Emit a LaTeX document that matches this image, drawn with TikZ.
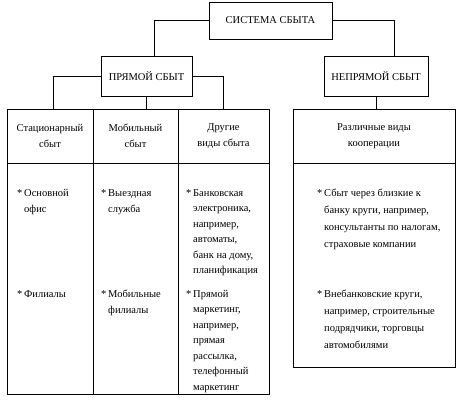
\documentclass[tikz,border=0pt]{standalone}
\usepackage{fontspec}
\setmainfont{Liberation Serif}
\usetikzlibrary{positioning}

\newcommand{\bul}[1]{\begin{tabular}[t]{@{}l@{\,}l@{}}*&#1\end{tabular}}

\begin{document}
\begin{tikzpicture}[
	x=1pt, y=-1pt,
	box/.style={
		rectangle,
		draw=black,
		line width=0.8pt,
		outer sep=0pt,
		inner sep=0pt,
		align=center,
		font=\fontsize{10.5}{16}\selectfont,
		minimum height=40pt
	},
	cell/.style={
		rectangle,
		draw=black,
		line width=0.8pt,
		outer sep=0pt,
		inner sep=0pt,
		align=center,
		font=\fontsize{10.5}{16.5}\selectfont
	},
	item/.style={
		anchor=base west,
		inner sep=0pt,
		font=\fontsize{10.5}{16}\selectfont
	},
	link/.style={line width=0.8pt}
	]
	\useasboundingbox (0,0) rectangle (461,402);

	\node[box, minimum width=123pt, minimum height=37pt] (sys) at (270.5,20.5) {СИСТЕМА СБЫТА};
	\node[box, minimum width=91pt] (direct) at (146.5,76) {ПРЯМОЙ СБЫТ};
	\node[box, minimum width=104pt] (indirect) at (376,76) {НЕПРЯМОЙ СБЫТ};

	% direct sales table
	\node[cell, anchor=north west, minimum width=86pt, minimum height=54pt] (stat) at (7,109) {Стационарный\\сбыт};
	\node[cell, minimum width=85pt, minimum height=54pt, right=0pt of stat] (mob) {Мобильный\\сбыт};
	\node[cell, minimum width=91pt, minimum height=54pt, right=0pt of mob] (other) {Другие\\виды сбыта};
	\node[cell, minimum width=86pt, minimum height=231pt, below=0pt of stat] (statbody) {};
	\node[cell, minimum width=85pt, minimum height=231pt, below=0pt of mob] (mobbody) {};
	\node[cell, minimum width=91pt, minimum height=231pt, below=0pt of other] (otherbody) {};

	% indirect sales table
	\node[cell, anchor=north west, minimum width=162pt, minimum height=54pt] (coop) at (293,109) {Различные виды\\кооперации};
	\node[cell, minimum width=162pt, minimum height=204pt, below=0pt of coop] (coopbody) {};

	\draw[link] (sys.west) -| ([xshift=8pt]direct.north);
	\draw[link] (sys.east) -| ([xshift=18pt]indirect.north);
	\draw[link] (direct.west) -| ([xshift=3pt]stat.north);
	\draw[link] (direct.south) -- (direct.south |- mob.north);
	\draw[link] (direct.east) -| (other.north);
	\draw[link] (indirect.south) -- (indirect.south |- coop.north);

	\node[item] (office) at (17,196) {\bul{Основной\\&офис}};
	\node[item] (branch) at (17,297) {\bul{Филиалы}};
	\node[item] (field) at (101,196) {\bul{Выездная\\&служба}};
	\node[item] (mobbranch) at (101,297) {\bul{Мобильные\\&филиалы}};
	\node[item, font=\fontsize{10.5}{15.5}\selectfont] (bank) at (186,196) {\bul{Банковская\\&электроника,\\&например,\\&автоматы,\\&банк на дому,\\&планификация}};
	\node[item, font=\fontsize{10.5}{15.5}\selectfont] (mail) at (186,297) {\bul{Прямой\\&маркетинг,\\&например,\\&прямая\\&рассылка,\\&телефонный\\&маркетинг}};
	\node[item, font=\fontsize{10.5}{17}\selectfont] (near) at (317,196) {\bul{Сбыт через близкие к\\&банку круги, например,\\&консультанты по налогам,\\&страховые компании}};
	\node[item, font=\fontsize{10.5}{17}\selectfont] (nonbank) at (317,297) {\bul{Внебанковские круги,\\&например, строительные\\&подрядчики, торговцы\\&автомобилями}};
\end{tikzpicture}
\end{document}
